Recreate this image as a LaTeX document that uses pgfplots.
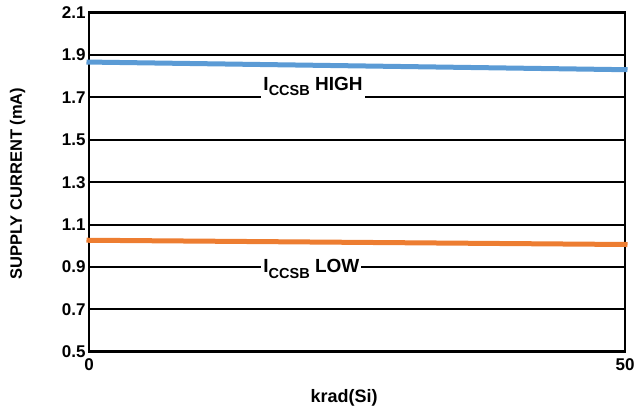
\documentclass[border=0pt]{standalone}
\usepackage{graphicx}
\usepackage{pgfplots}
\pgfplotsset{compat=1.18}
\usepackage{fontspec}
\setmainfont{Liberation Sans}

\definecolor{hiblue}{HTML}{5B9BD5}
\definecolor{loorange}{HTML}{ED7D31}

\newcommand{\sub}[1]{\raisebox{-0.3em}{\fontsize{14.5bp}{14.5bp}\selectfont #1}}

\begin{document}
\begin{tikzpicture}
\begin{axis}[
  at={(0,0)}, anchor=south west,
  scale only axis, width=536bp, height=339bp,
  xmin=0, xmax=50, ymin=0.5, ymax=2.1,
  xtick={0,50},
  ytick={0.5,0.7,0.9,1.1,1.3,1.5,1.7,1.9,2.1},
  yticklabels={0.5,0.7,0.9,1.1,1.3,1.5,1.7,1.9,2.1},
  ymajorgrids,
  grid style={black, line width=2bp},
  axis line style={line width=2.5bp},
  major tick length=0pt,
  tick label style={font=\fontsize{17bp}{20bp}\selectfont\bfseries},
  xticklabel style={yshift=-3bp},
  /pgf/number format/assume math mode=true,
  xlabel={krad(Si)},
  ylabel={SUPPLY CURRENT (mA)},
  xlabel style={font=\fontsize{18bp}{21bp}\selectfont\bfseries,
    at={(axis description cs:0.476,-0.1375)}, anchor=center},
  ylabel style={font=\fontsize{16.5bp}{20bp}\selectfont\bfseries,
    at={(axis description cs:-0.1334,0.496)}, anchor=center},
  clip=false,
]
% supply current versus total dose
\addplot[hiblue, line width=5bp, line cap=rect] coordinates {(0,1.867) (50,1.831)};
\addplot[loorange, line width=5bp, line cap=rect] coordinates {(0,1.026) (50,1.006)};

\node[fill=white, inner xsep=2bp, inner ysep=4bp, anchor=base,
  font=\fontsize{19bp}{22bp}\selectfont\bfseries]
  at (axis cs:20.9,1.735) {I\sub{CCSB} HIGH};
\node[fill=white, inner xsep=2bp, inner ysep=4bp, anchor=base,
  font=\fontsize{19bp}{22bp}\selectfont\bfseries]
  at (axis cs:20.75,0.873) {I\sub{CCSB} LOW};
\end{axis}
\pgfresetboundingbox
\path (-89bp,-61.3bp) rectangle (545bp,351.7bp);
\end{tikzpicture}
\end{document}
